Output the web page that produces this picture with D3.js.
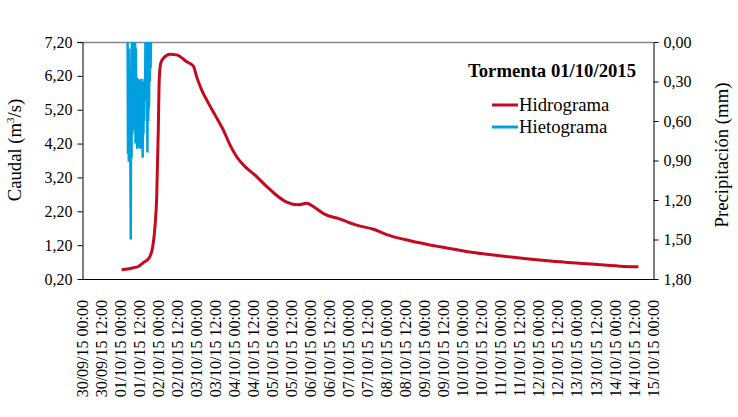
<!DOCTYPE html>
<html>
<head>
<meta charset="utf-8">
<script src="https://cdn.jsdelivr.net/npm/d3@7"></script>
<style>
  body { margin: 0; background: #fff; }
  svg { font-family: "Liberation Serif", "Times New Roman", serif; }
</style>
</head>
<body>
<script>
// hidrograma: horas desde el 01/10/15 00:00, caudal en m3/s
const hidroHoras = [1.0, 7.3, 11.5, 14.6, 18.4, 20.6, 22.0, 23.1, 24.1, 24.7, 25.6, 27.3,
  31.5, 35.7, 42.0, 46.2, 48.3, 51.5, 54.6, 59.9, 65.1, 69.3, 73.5, 78.8, 85.1, 92.5,
  99.8, 105.1, 112.4, 117.7, 121.8, 129.2, 138.7, 149.2, 159.7, 170.2, 182.8, 201.7,
  222.7, 247.9, 271.1, 294.2, 315.2, 326.8];
const hidroCaudal = [0.47, 0.52, 0.57, 0.68, 0.83, 1.15, 1.74, 2.63, 4.60, 6.08, 6.57, 6.72,
  6.84, 6.82, 6.62, 6.49, 6.17, 5.78, 5.49, 5.04, 4.60, 4.16, 3.81, 3.52, 3.27, 2.93,
  2.63, 2.47, 2.39, 2.44, 2.34, 2.11, 1.97, 1.79, 1.67, 1.48, 1.33, 1.15,
  0.98, 0.84, 0.73, 0.65, 0.58, 0.56];

// hietograma: un dato cada 15 min desde el 01/10/15 04:45, en mm
const lluviaInicio = 4.75;
const lluviaPaso = 0.25;
const lluviaMm = [0.00, 0.85, 0.10, 0.91, 0.05, 0.75, 0.20, 0.90, 1.50, 0.30, 0.88, 0.00,
  0.70, 0.15, 0.60, 0.00, 0.49, 0.10, 0.67, 0.00, 0.77, 0.05, 0.62, 0.27, 0.81, 0.30,
  0.75, 0.28, 0.80, 0.33, 0.72, 0.29, 0.81, 0.35, 0.66, 0.28, 0.78, 0.40, 0.88, 0.30,
  0.70, 0.32, 0.60, 0.28, 0.45, 0.00, 0.30, 0.05, 0.25, 0.00, 0.84, 0.10, 0.60, 0.00,
  0.50, 0.05, 0.30, 0.00, 0.20, 0.00];

const caudalTicks = [0.2, 1.2, 2.2, 3.2, 4.2, 5.2, 6.2, 7.2];
const precipTicks = [0, 0.3, 0.6, 0.9, 1.2, 1.5, 1.8];
const tituloLeyenda = 'Tormenta 01/10/2015';
const series = ['Hidrograma', 'Hietograma'];
const colores = ['#c40a20', '#00a0e0'];

const width = 738;
const height = 417;
const plot = {left: 82, right: 653, top: 42, bottom: 279};

const t0 = Date.UTC(2015, 9, 1);
const horaAFecha = h => new Date(t0 + h * 3600e3);
const coma = d => d3.format('.2f')(d).replace('.', ',');

const svg = d3.select('body').append('svg')
  .attr('width', width)
  .attr('height', height);

const x = d3.scaleUtc()
  .domain([new Date(Date.UTC(2015, 8, 30)), new Date(Date.UTC(2015, 9, 15))])
  .range([plot.left, plot.right]);

const yQ = d3.scaleLinear().domain([0.2, 7.2]).range([plot.bottom, plot.top]);
const yP = d3.scaleLinear().domain([0, 1.8]).range([plot.top, plot.bottom]);

svg.append('defs').append('clipPath')
  .attr('id', 'area')
  .append('rect')
  .attr('x', plot.left)
  .attr('y', plot.top - 2)
  .attr('width', plot.right - plot.left)
  .attr('height', plot.bottom - plot.top + 2);

// borde superior gris
svg.append('line')
  .attr('x1', plot.left - 5)
  .attr('x2', plot.right)
  .attr('y1', plot.top + 0.5)
  .attr('y2', plot.top + 0.5)
  .attr('stroke', '#888')
  .attr('stroke-width', 1.5);

// ejes
const ejeQ = svg.append('g')
  .attr('transform', `translate(${plot.left + 0.5},0)`)
  .call(d3.axisLeft(yQ).tickValues(caudalTicks).tickSize(5).tickSizeOuter(0).tickPadding(5).tickFormat(coma));

const ejeP = svg.append('g')
  .attr('transform', `translate(${plot.right + 0.5},0)`)
  .call(d3.axisRight(yP).tickValues(precipTicks).tickSize(5).tickSizeOuter(0).tickPadding(5).tickFormat(coma));

[ejeQ, ejeP].forEach(g => {
  g.attr('font-family', null);
  g.selectAll('text').attr('font-size', 16).attr('fill', '#000');
  g.selectAll('line, path').attr('stroke', '#000');
});

svg.append('line')
  .attr('x1', plot.left)
  .attr('x2', plot.right + 1)
  .attr('y1', plot.bottom + 0.5)
  .attr('y2', plot.bottom + 0.5)
  .attr('stroke', '#000');

const fechas = d3.utcHour.every(12).range(x.domain()[0], new Date(+x.domain()[1] + 1));
const fmt = d3.utcFormat('%d/%m/%y %H:%M');

svg.append('g')
  .selectAll('text')
  .data(fechas)
  .enter()
  .append('text')
  .attr('transform', d => `translate(${x(d)},300) rotate(-90)`)
  .attr('text-anchor', 'end')
  .attr('dy', '0.35em')
  .attr('font-size', 16)
  .text(d => fmt(d));

// series
const hidro = hidroHoras.map((h, i) => ({t: horaAFecha(h), v: hidroCaudal[i]}));
const lluvia = lluviaMm.map((v, i) => ({t: horaAFecha(lluviaInicio + i * lluviaPaso), v: v}));

svg.append('path')
  .datum(hidro)
  .attr('clip-path', 'url(#area)')
  .attr('fill', 'none')
  .attr('stroke', colores[0])
  .attr('stroke-width', 3)
  .attr('stroke-linejoin', 'round')
  .attr('d', d3.line().x(d => x(d.t)).y(d => yQ(d.v)).curve(d3.curveMonotoneX));

svg.append('path')
  .datum(lluvia)
  .attr('clip-path', 'url(#area)')
  .attr('fill', 'none')
  .attr('stroke', colores[1])
  .attr('stroke-width', 2.5)
  .attr('d', d3.line().x(d => x(d.t)).y(d => yP(d.v)));

// titulos de ejes
const tituloQ = svg.append('text')
  .attr('transform', `translate(21,150) rotate(-90)`)
  .attr('text-anchor', 'middle')
  .attr('font-size', 18.7);
tituloQ.append('tspan').text('Caudal (m');
tituloQ.append('tspan').attr('font-size', 11).attr('dy', -7).text('3');
tituloQ.append('tspan').attr('dy', 7).text('/s)');

svg.append('text')
  .attr('transform', `translate(728,155) rotate(-90)`)
  .attr('text-anchor', 'middle')
  .attr('font-size', 18.7)
  .text('Precipitación (mm)');

// leyenda
svg.append('text')
  .attr('x', 468)
  .attr('y', 77)
  .attr('font-size', 18.7)
  .attr('font-weight', 'bold')
  .text(tituloLeyenda);

const leyenda = svg.append('g')
  .selectAll('g')
  .data(series)
  .enter()
  .append('g')
  .attr('transform', (d, i) => `translate(0,${105 + i * 22})`);

leyenda.append('line')
  .attr('x1', 492)
  .attr('x2', 518)
  .attr('stroke', (d, i) => colores[i])
  .attr('stroke-width', 3);

leyenda.append('text')
  .attr('x', 519)
  .attr('y', 5.5)
  .attr('font-size', 18.7)
  .text(d => d);
</script>
</body>
</html>
